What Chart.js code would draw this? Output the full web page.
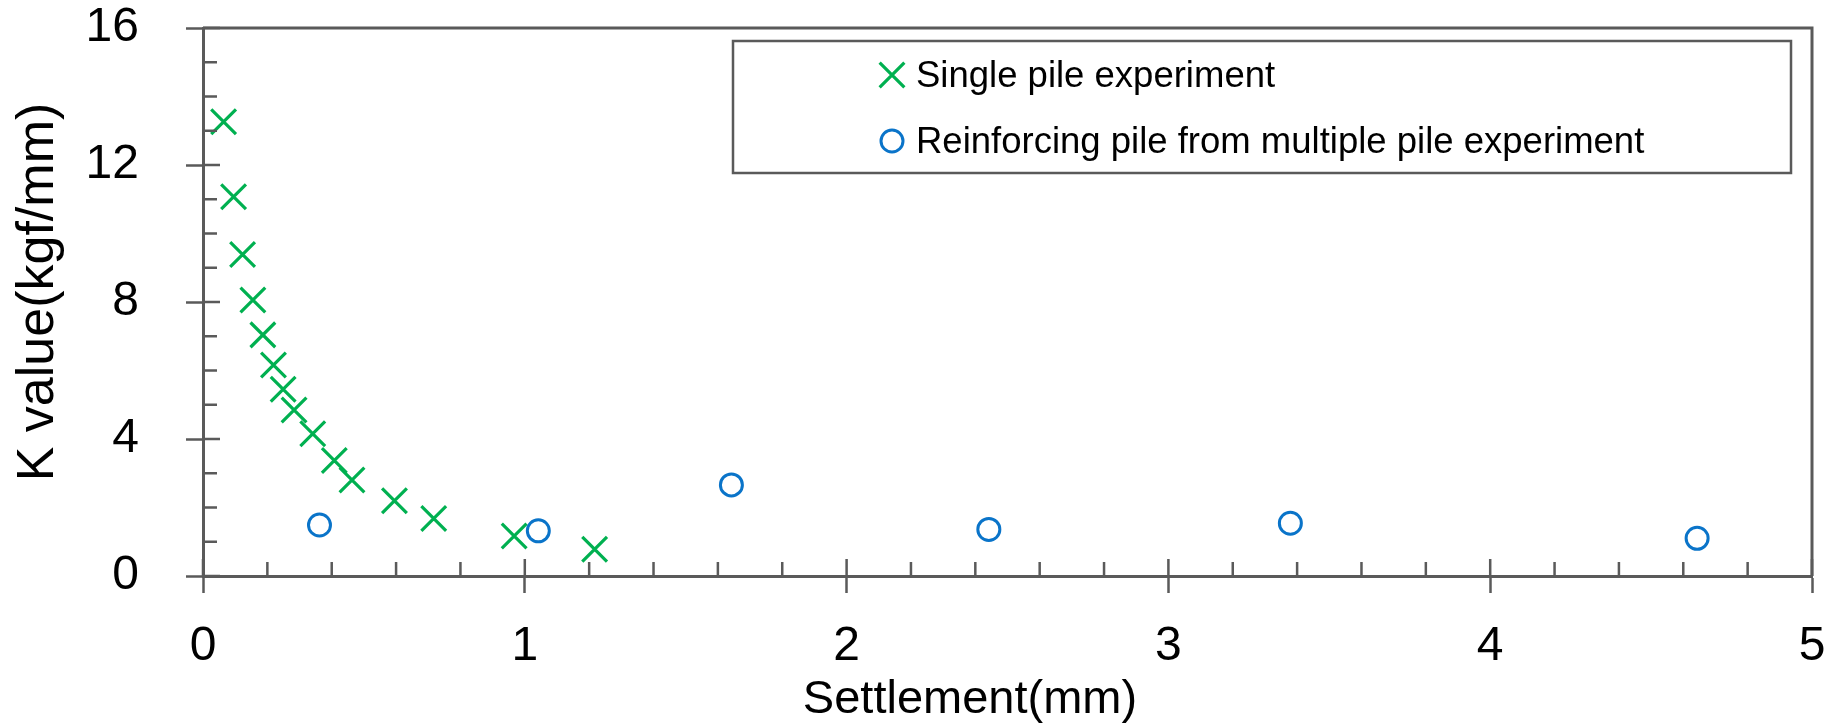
<!DOCTYPE html>
<html>
<head>
<meta charset="utf-8">
<title>K value vs settlement</title>
<script src="https://cdn.jsdelivr.net/npm/chart.js@4.4.1/dist/chart.umd.min.js"></script>
<style>
    html, body { margin: 0; padding: 0; background: #fff; }
    #wrap { width: 1839px; height: 725px; position: relative; }
</style>
</head>
<body>
<div id="wrap"><canvas id="kChart"></canvas></div>
<script>
// data
const singleLabel = 'Single pile experiment';
const singleX = [0.064, 0.095, 0.123, 0.155, 0.186, 0.219, 0.249, 0.283, 0.341, 0.408, 0.463, 0.595, 0.717, 0.967, 1.217];
const singleY = [13.26, 11.07, 9.39, 8.06, 7.04, 6.16, 5.45, 4.85, 4.15, 3.37, 2.80, 2.20, 1.68, 1.17, 0.78];

const reinfLabel = 'Reinforcing pile from multiple pile experiment';
const reinfX = [0.362, 1.042, 1.642, 2.442, 3.379, 4.643];
const reinfY = [1.49, 1.32, 2.66, 1.36, 1.54, 1.10];

const xTicks = [0, 1, 2, 3, 4, 5];
const yTicks = [0, 4, 8, 12, 16];
const xTitle = 'Settlement(mm)';
const yTitle = 'K value(kgf/mm)';

const green = '#00b050';
const blue = '#0a74c9';
const axisColor = '#5a5a5a';
const fontFamily = '"Liberation Sans", Arial, sans-serif';

function toPoints(xs, ys) {
    return xs.map((x, i) => ({ x: x, y: ys[i] }));
}

// frame, minor ticks, axis titles and boxed legend
const extras = {
    id: 'extras',
    afterDraw(chart) {
        const ctx = chart.ctx;
        const area = chart.chartArea;
        const xs = chart.scales.x;
        const ys = chart.scales.y;
        ctx.save();
        ctx.strokeStyle = axisColor;
        ctx.lineCap = 'butt';

        // top and right frame
        ctx.lineWidth = 3;
        ctx.beginPath();
        ctx.moveTo(area.left, area.top);
        ctx.lineTo(area.right, area.top);
        ctx.lineTo(area.right, area.bottom);
        ctx.stroke();

        // inner half of major ticks + minor ticks
        ctx.lineWidth = 2.5;
        ctx.beginPath();
        for (let v = 0; v <= 16; v++) {
            const py = ys.getPixelForValue(v);
            const len = v % 4 === 0 ? 17 : 14;
            ctx.moveTo(area.left, py);
            ctx.lineTo(area.left + len, py);
        }
        for (let i = 0; i <= 25; i++) {
            const px = xs.getPixelForValue(i * 0.2);
            const len = i % 5 === 0 ? 17 : 14;
            ctx.moveTo(px, area.bottom);
            ctx.lineTo(px, area.bottom - len);
        }
        ctx.stroke();

        // axis titles
        ctx.fillStyle = '#000';
        ctx.textBaseline = 'alphabetic';
        ctx.textAlign = 'center';
        ctx.font = '47px ' + fontFamily;
        ctx.fillText(xTitle, 970, 713);
        ctx.save();
        ctx.translate(53, 292);
        ctx.rotate(-Math.PI / 2);
        ctx.font = '52px ' + fontFamily;
        ctx.fillText(yTitle, 0, 0);
        ctx.restore();

        // legend box
        const box = { left: 733, top: 41, right: 1791, bottom: 173 };
        ctx.fillStyle = '#fff';
        ctx.fillRect(box.left, box.top, box.right - box.left, box.bottom - box.top);
        ctx.lineWidth = 2.5;
        ctx.strokeStyle = axisColor;
        ctx.strokeRect(box.left, box.top, box.right - box.left, box.bottom - box.top);

        const rows = [
            { ds: chart.data.datasets[0], y: 75, base: 87 },
            { ds: chart.data.datasets[1], y: 141, base: 153 }
        ];
        ctx.font = '36.5px ' + fontFamily;
        ctx.textAlign = 'left';
        rows.forEach(row => {
            const ds = row.ds;
            ctx.fillStyle = ds.backgroundColor;
            ctx.strokeStyle = ds.borderColor;
            ctx.lineWidth = ds.pointBorderWidth;
            Chart.helpers.drawPoint(ctx, {
                pointStyle: ds.pointStyle,
                radius: ds.pointRadius,
                borderWidth: ds.pointBorderWidth
            }, 892, row.y);
            ctx.fillStyle = '#000';
            ctx.fillText(ds.label, 916, row.base);
        });
        ctx.restore();
    }
};

function fixWidth(w) {
    return function (scale) {
        scale.width = w;
        scale.paddingTop = 0;
        scale.paddingBottom = 0;
    };
}
function fixHeight(h) {
    return function (scale) {
        scale.height = h;
        scale.paddingLeft = 0;
        scale.paddingRight = 0;
    };
}

const ctx = document.getElementById('kChart').getContext('2d');
new Chart(ctx, {
    type: 'scatter',
    data: {
        datasets: [
            {
                label: singleLabel,
                data: toPoints(singleX, singleY),
                pointStyle: 'crossRot',
                pointRadius: 17.5,
                pointBorderWidth: 3.2,
                borderColor: green,
                backgroundColor: green
            },
            {
                label: reinfLabel,
                data: toPoints(reinfX, reinfY),
                pointStyle: 'circle',
                pointRadius: 11,
                pointBorderWidth: 3,
                borderColor: blue,
                backgroundColor: 'rgba(0,0,0,0)'
            }
        ]
    },
    options: {
        responsive: true,
        maintainAspectRatio: false,
        animation: false,
        layout: { padding: { top: 28, right: 27, left: 0, bottom: 0 } },
        plugins: {
            legend: { display: false },
            tooltip: { enabled: false }
        },
        scales: {
            x: {
                type: 'linear',
                min: 0,
                max: 5,
                afterFit: fixHeight(149),
                afterBuildTicks(scale) { scale.ticks = xTicks.map(v => ({ value: v })); },
                ticks: {
                    color: '#000',
                    padding: 30,
                    font: { family: fontFamily, size: 48, lineHeight: 1 }
                },
                grid: {
                    drawOnChartArea: false,
                    drawTicks: true,
                    tickLength: 17,
                    tickWidth: 2.5,
                    tickColor: axisColor
                },
                border: { display: true, color: axisColor, width: 3 }
            },
            y: {
                type: 'linear',
                min: 0,
                max: 16,
                afterFit: fixWidth(203),
                afterBuildTicks(scale) { scale.ticks = yTicks.map(v => ({ value: v })); },
                ticks: {
                    color: '#000',
                    padding: 47,
                    font: { family: fontFamily, size: 48, lineHeight: 1 }
                },
                grid: {
                    drawOnChartArea: false,
                    drawTicks: true,
                    tickLength: 17,
                    tickWidth: 2.5,
                    tickColor: axisColor
                },
                border: { display: true, color: axisColor, width: 3 }
            }
        }
    },
    plugins: [extras]
});
</script>
</body>
</html>
